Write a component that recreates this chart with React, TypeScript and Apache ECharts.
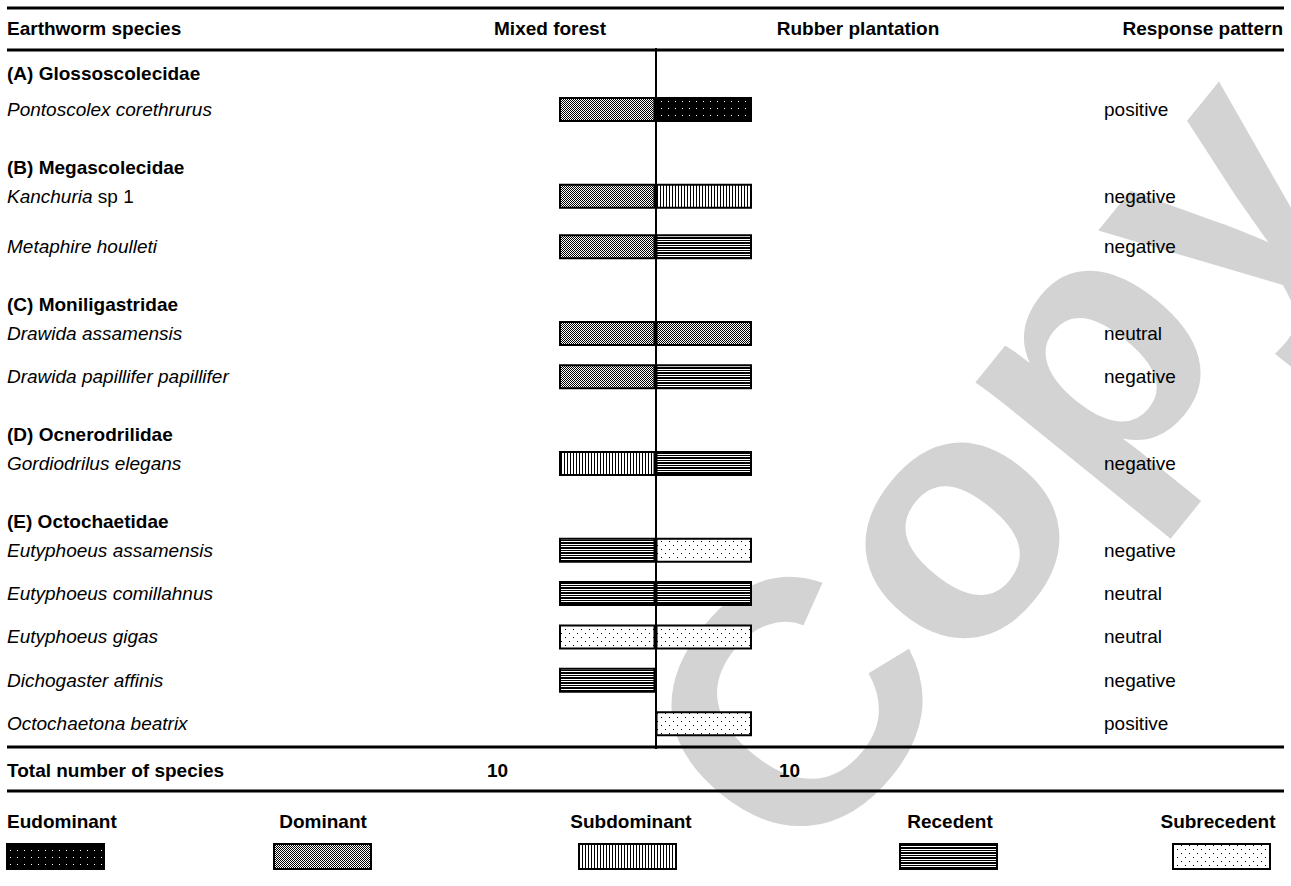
import React, { useEffect, useRef } from 'react';
import * as echarts from 'echarts';

// ---------- data ----------
const columnHeaders = ['Earthworm species', 'Mixed forest', 'Rubber plantation', 'Response pattern'];
const families = ['(A) Glossoscolecidae', '(B) Megascolecidae', '(C) Moniligastridae', '(D) Ocnerodrilidae', '(E) Octochaetidae'];
const species = [
  'Pontoscolex corethrurus',
  'Kanchuria sp 1',
  'Metaphire houlleti',
  'Drawida assamensis',
  'Drawida papillifer papillifer',
  'Gordiodrilus elegans',
  'Eutyphoeus assamensis',
  'Eutyphoeus comillahnus',
  'Eutyphoeus gigas',
  'Dichogaster affinis',
  'Octochaetona beatrix',
];
const speciesFamily = [0, 1, 1, 2, 2, 3, 4, 4, 4, 4, 4];
const mixedForest = ['Dominant', 'Dominant', 'Dominant', 'Dominant', 'Dominant', 'Subdominant', 'Recedent', 'Recedent', 'Subrecedent', 'Recedent', null];
const rubberPlantation = ['Eudominant', 'Subdominant', 'Recedent', 'Dominant', 'Recedent', 'Recedent', 'Subrecedent', 'Recedent', 'Subrecedent', null, 'Subrecedent'];
const responsePattern = ['positive', 'negative', 'negative', 'neutral', 'negative', 'negative', 'negative', 'neutral', 'neutral', 'negative', 'positive'];
const dominanceClasses = ['Eudominant', 'Dominant', 'Subdominant', 'Recedent', 'Subrecedent'];
const totalLabel = 'Total number of species';
const totalSpecies = [10, 10];
const watermarkText = 'Copy';

// ---------- layout (half-line units between consecutive table lines) ----------
const LINE_GAPS = [5, 8, 4, 7, 8, 4, 6, 8, 4, 8, 4, 6, 6, 6, 6];
const PAD_TOP = 3;
const PAD_BOTTOM = 3;

const FONT = '"Liberation Sans", Arial, Helvetica, sans-serif';
const FS = 19;

function makePattern(w: number, h: number, draw: (ctx: CanvasRenderingContext2D) => void) {
  const c = document.createElement('canvas');
  c.width = w;
  c.height = h;
  const ctx = c.getContext('2d') as CanvasRenderingContext2D;
  draw(ctx);
  return { image: c.toDataURL(), repeat: 'repeat', imageWidth: w, imageHeight: h };
}

function buildPatterns() {
  const px = (ctx: CanvasRenderingContext2D, x: number, y: number, col: string) => {
    ctx.fillStyle = col;
    ctx.fillRect(x, y, 1, 1);
  };
  return {
    Eudominant: makePattern(7, 7, (ctx) => {
      ctx.fillStyle = '#000';
      ctx.fillRect(0, 0, 7, 7);
      px(ctx, 3, 3, '#fff');
    }),
    Dominant: makePattern(4, 4, (ctx) => {
      ctx.fillStyle = '#fff';
      ctx.fillRect(0, 0, 4, 4);
      for (let y = 0; y < 4; y++) for (let x = 0; x < 4; x++) if ((x + y) % 2 === 0) px(ctx, x, y, '#000');
    }),
    Subdominant: makePattern(3, 1, (ctx) => {
      ctx.fillStyle = '#fff';
      ctx.fillRect(0, 0, 3, 1);
      px(ctx, 0, 0, '#000');
    }),
    Recedent: makePattern(1, 5, (ctx) => {
      ctx.fillStyle = '#fff';
      ctx.fillRect(0, 0, 1, 5);
      px(ctx, 0, 0, '#000');
      px(ctx, 0, 2, '#000');
      px(ctx, 0, 3, '#000');
    }),
    Subrecedent: makePattern(8, 8, (ctx) => {
      ctx.fillStyle = '#fff';
      ctx.fillRect(0, 0, 8, 8);
      px(ctx, 1, 1, '#000');
      px(ctx, 5, 5, '#000');
    }),
  } as Record<string, any>;
}

function speciesLabel(name: string) {
  const m = name.match(/^(.*?)( sp \d+)$/);
  if (m) return `{sp|${m[1]}}{rg|${m[2]}}`;
  return `{sp|${name}}`;
}

function buildOption() {
  const patterns = buildPatterns();

  // table lines: family header followed by its species
  const lines: { kind: 'family' | 'species'; idx: number }[] = [];
  let prev = -1;
  species.forEach((_, i) => {
    if (speciesFamily[i] !== prev) {
      lines.push({ kind: 'family', idx: speciesFamily[i] });
      prev = speciesFamily[i];
    }
    lines.push({ kind: 'species', idx: i });
  });
  const slotOfLine: number[] = [];
  let s = PAD_TOP;
  lines.forEach((_, k) => {
    if (k > 0) s += LINE_GAPS[k - 1];
    slotOfLine.push(s);
  });
  const total = s + 1 + PAD_BOTTOM;

  const cats: string[] = [];
  const leftLabels: string[] = [];
  const rightLabels: string[] = [];
  const mixedData: any[] = [];
  const rubberData: any[] = [];
  for (let i = 0; i < total; i++) {
    cats.push('slot' + i);
    leftLabels.push('');
    rightLabels.push('');
    mixedData.push('-');
    rubberData.push('-');
  }
  lines.forEach((ln, k) => {
    const slot = slotOfLine[k];
    if (ln.kind === 'family') {
      leftLabels[slot] = `{fam|${families[ln.idx]}}`;
    } else {
      const i = ln.idx;
      leftLabels[slot] = speciesLabel(species[i]);
      rightLabels[slot] = `{rg|${responsePattern[i]}}`;
      const mf = mixedForest[i];
      const rp = rubberPlantation[i];
      if (mf) mixedData[slot] = { value: -1, itemStyle: { color: patterns[mf] } };
      if (rp) rubberData[slot] = { value: 1, itemStyle: { color: patterns[rp] } };
    }
  });

  const rich = {
    fam: { fontFamily: FONT, fontSize: FS, fontWeight: 'bold', color: '#000', lineHeight: 22 },
    sp: { fontFamily: FONT, fontSize: FS, fontStyle: 'italic', color: '#000', lineHeight: 22 },
    rg: { fontFamily: FONT, fontSize: FS, color: '#000', lineHeight: 22 },
  };

  const gridLeft = 559;
  const gridRightX = 752;
  const gridTop = 48;
  const gridBottom = 749;
  const W = 1291;

  const txt = (text: string, x: number, y: number, align: string, bold = true) => ({
    type: 'text',
    x,
    y,
    z: 10,
    style: {
      text,
      fontFamily: FONT,
      fontSize: FS,
      fontWeight: bold ? 'bold' : 'normal',
      fill: '#000',
      align,
      verticalAlign: 'middle',
      textAlign: align,
      textVerticalAlign: 'middle',
    },
  });
  const rule = (y: number) => ({
    type: 'line',
    z: 10,
    shape: { x1: 7, y1: y, x2: 1284, y2: y },
    style: { stroke: '#000', lineWidth: 3 },
  });

  const legendX = [7, 274, 579, 900, 1173];
  const legendTextX = [7, 323, 631, 950, 1218];
  const legendAlign = ['left', 'center', 'center', 'center', 'center'];

  const elements: any[] = [
    {
      type: 'text',
      x: 990,
      y: 462,
      z: -10,
      rotation: (51 * Math.PI) / 180,
      scaleX: 1.04,
      silent: true,
      style: {
        text: watermarkText,
        fontFamily: FONT,
        fontSize: 340,
        fontWeight: 'bold',
        fill: '#d3d3d3',
        align: 'center',
        verticalAlign: 'middle',
        textAlign: 'center',
        textVerticalAlign: 'middle',
      },
    },
    rule(8),
    rule(50),
    rule(747),
    rule(791),
    txt(columnHeaders[0], 7, 28, 'left'),
    txt(columnHeaders[1], 550, 28, 'center'),
    txt(columnHeaders[2], 858, 28, 'center'),
    txt(columnHeaders[3], 1283, 28, 'right'),
    txt(totalLabel, 7, 770, 'left'),
    txt(String(totalSpecies[0]), 487, 770, 'left'),
    txt(String(totalSpecies[1]), 779, 770, 'left'),
  ];
  dominanceClasses.forEach((c, i) => {
    elements.push(txt(c, legendTextX[i], 821, legendAlign[i]));
    elements.push({
      type: 'rect',
      z: 10,
      shape: { x: legendX[i], y: 844, width: 97, height: 25 },
      style: { fill: patterns[c], stroke: '#000', lineWidth: 2 },
    });
  });

  return {
    animation: false,
    backgroundColor: '#fff',
    graphic: { elements },
    grid: { left: gridLeft, right: W - gridRightX, top: gridTop, height: gridBottom - gridTop, containLabel: false },
    xAxis: { type: 'value', min: -1, max: 1, show: false },
    yAxis: [
      {
        type: 'category',
        data: cats,
        inverse: true,
        axisLine: { show: false },
        axisTick: { show: false },
        splitLine: { show: false },
        axisLabel: {
          interval: 0,
          margin: gridLeft - 7,
          align: 'left',
          formatter: (_v: string, idx: number) => leftLabels[idx],
          rich,
        },
      },
      {
        type: 'category',
        data: cats,
        inverse: true,
        position: 'right',
        axisLine: { show: false },
        axisTick: { show: false },
        splitLine: { show: false },
        axisLabel: {
          interval: 0,
          margin: 1104 - gridRightX,
          align: 'left',
          formatter: (_v: string, idx: number) => rightLabels[idx],
          rich,
        },
      },
    ],
    series: [
      {
        type: 'bar',
        name: columnHeaders[1],
        data: mixedData,
        barWidth: 25,
        barGap: '-100%',
        yAxisIndex: 0,
        itemStyle: { borderColor: '#000', borderWidth: 2 },
        markLine: {
          silent: true,
          symbol: ['none', 'none'],
          label: { show: false },
          lineStyle: { color: '#000', width: 2, type: 'solid' },
          data: [{ xAxis: 0 }],
        },
      },
      {
        type: 'bar',
        name: columnHeaders[2],
        data: rubberData,
        barWidth: 25,
        barGap: '-100%',
        yAxisIndex: 0,
        itemStyle: { borderColor: '#000', borderWidth: 2 },
      },
    ],
  };
}

export default function App() {
  const ref = useRef<HTMLDivElement>(null);
  useEffect(() => {
    const chart = echarts.init(ref.current as HTMLDivElement, null, { renderer: 'svg' });
    chart.setOption(buildOption() as any);
    return () => chart.dispose();
  }, []);
  return (
    <div
      ref={ref}
      style={{ position: 'absolute', left: 0, top: 0, width: 1291, height: 886, background: '#fff' }}
    />
  );
}
